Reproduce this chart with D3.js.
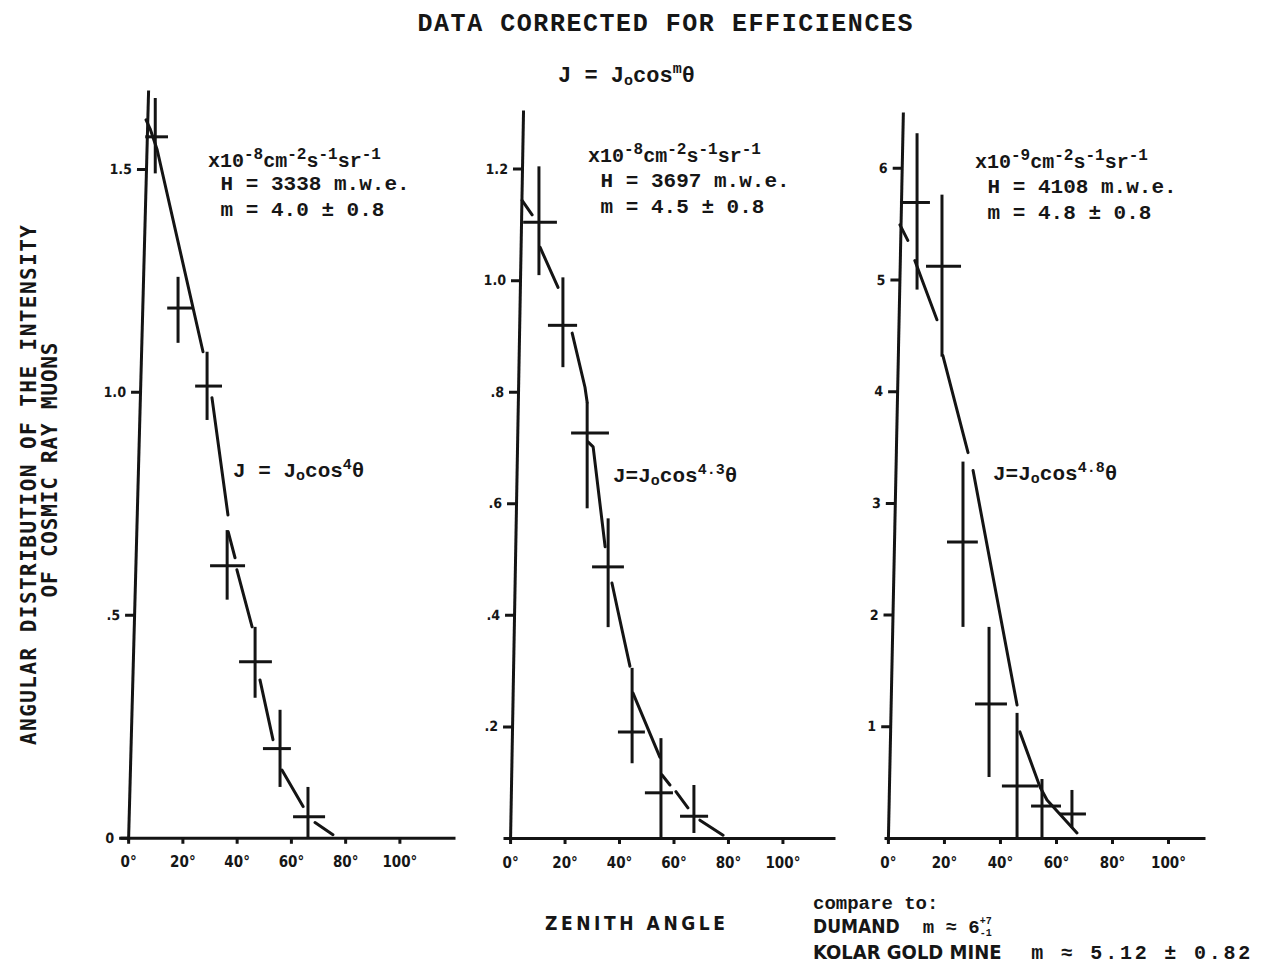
<!DOCTYPE html>
<html lang="en">
<head>
<meta charset="utf-8">
<title>Angular distribution of cosmic ray muons</title>
<script src="https://cdn.jsdelivr.net/npm/d3@7"></script>
<style>
	body { margin: 0; background: #fff; }
	text { fill: #161616; }
	.mono { font-family: "Liberation Mono", "DejaVu Sans Mono", monospace; font-weight: bold; }
	.letter { font-family: "DejaVu Sans Condensed", "DejaVu Sans", sans-serif; font-weight: bold; }
	.gothic { font-family: "DejaVu Sans Mono", monospace; font-weight: bold; }
	.axis path, .axis line { stroke: #141414; stroke-width: 3; }
	.axis text { font-family: "DejaVu Sans Condensed", sans-serif; font-weight: bold; fill: #161616; }
	.bar { stroke: #141414; stroke-width: 3; }
	.fit { fill: none; stroke: #141414; stroke-width: 3; stroke-linejoin: round; stroke-linecap: round; }
</style>
</head>
<body>
<script>
	// zenith angle axis, shared by the three panels
	var angleTicks = [0, 20, 40, 60, 80, 100];
	var angleTickLabels = ["0°", "20°", "40°", "60°", "80°", "100°"];

	// panel 1 : H = 3338 m.w.e.  (x10^-8 cm^-2 s^-1 sr^-1)
	var p1Ticks = [0, 0.5, 1.0, 1.5];
	var p1TickLabels = ["0", ".5", "1.0", "1.5"];
	var p1Angle   = [10.0, 18.4, 29.1, 36.5, 46.8, 56.0, 66.3];
	var p1AngleLo = [6.3, 14.4, 24.7, 30.2, 40.9, 49.7, 60.8];
	var p1AngleHi = [14.7, 23.6, 34.6, 43.1, 53.0, 60.0, 72.6];
	var p1J   = [1.572, 1.188, 1.013, 0.610, 0.395, 0.200, 0.047];
	var p1JLo = [1.490, 1.110, 0.937, 0.534, 0.314, 0.114, 0.000];
	var p1JHi = [1.659, 1.258, 1.090, 0.690, 0.473, 0.287, 0.114];
	// hand drawn fit, null = pen lifted
	var p1FitAngle = [6.6, 8.1, 10.7, 27.6, null, 30.9, 36.8, null, 36.9, 39.4, null, 40.1, 45.7, null, 48.6, 53.4, null, 56.7, 64.5, null, 68.9, 75.5];
	var p1FitJ     = [1.61, 1.59, 1.543, 1.09, null, 0.987, 0.724, null, 0.686, 0.628, null, 0.601, 0.473, null, 0.354, 0.220, null, 0.152, 0.070, null, 0.034, 0.007];

	// panel 2 : H = 3697 m.w.e.
	var p2Ticks = [0.2, 0.4, 0.6, 0.8, 1.0, 1.2];
	var p2TickLabels = [".2", ".4", ".6", ".8", "1.0", "1.2"];
	var p2Angle   = [10.6, 19.4, 28.3, 36.0, 44.8, 55.4, 67.5];
	var p2AngleLo = [4.8, 13.9, 22.4, 30.1, 39.6, 49.5, 62.4];
	var p2AngleHi = [17.2, 24.6, 36.3, 41.8, 49.5, 59.8, 72.7];
	var p2J   = [1.104, 0.919, 0.726, 0.486, 0.190, 0.081, 0.039];
	var p2JLo = [1.009, 0.844, 0.591, 0.378, 0.134, 0.000, 0.009];
	var p2JHi = [1.204, 1.005, 0.781, 0.573, 0.305, 0.179, 0.095];
	var p2FitAngle = [4.4, 8.1, null, 11.0, 17.6, null, 22.8, 27.5, 28.3, null, 28.6, 30.5, 34.9, null, 37.4, 39.6, 44.0, null, 45.1, 55.0, null, 55.8, 58.7, null, 60.9, 65.3, null, 69.7, 78.2];
	var p2FitJ     = [1.143, 1.117, null, 1.059, 0.987, null, 0.905, 0.808, 0.781, null, 0.710, 0.701, 0.522, null, 0.457, 0.407, 0.308, null, 0.260, 0.145, null, 0.113, 0.095, null, 0.083, 0.054, null, 0.032, 0.005];

	// panel 3 : H = 4108 m.w.e.  (x10^-9 cm^-2 s^-1 sr^-1)
	var p3Ticks = [1, 2, 3, 4, 5, 6];
	var p3TickLabels = ["1", "2", "3", "4", "5", "6"];
	var p3Angle   = [10.4, 19.3, 26.8, 36.1, 46.1, 55.0, 65.7];
	var p3AngleLo = [4.3, 13.6, 21.1, 31.1, 40.7, 51.1, 61.4];
	var p3AngleHi = [15.0, 26.1, 32.1, 42.5, 53.6, 61.8, 70.7];
	var p3J   = [5.69, 5.12, 2.65, 1.20, 0.466, 0.286, 0.215];
	var p3JLo = [4.91, 4.31, 1.89, 0.546, 0.0, 0.0, 0.09];
	var p3JHi = [6.31, 5.76, 3.37, 1.89, 1.12, 0.528, 0.43];
	var p3FitAngle = [4.3, 7.1, null, 9.6, 17.5, null, 19.6, 28.6, null, 30.4, 46.1, null, 47.1, 54.3, 56.8, 67.5];
	var p3FitJ     = [5.49, 5.35, null, 5.17, 4.64, null, 4.32, 3.45, null, 3.29, 1.19, null, 0.95, 0.457, 0.34, 0.045];

	var w = 1268;
	var h = 967;

	var svg = d3.select("body")
				.append("svg")
				.attr("width", w)
				.attr("height", h);

	svg.append("rect").attr("width", w).attr("height", h).attr("fill", "#fff");

	// the three panels, with the frame of each as it sits on the page
	var panels = [
		{ xDomain: [-3, 120.5], xRange: [120, 455], yDomain: [-0.005, 1.677], yRange: [840, 90], lean: 1.53,
		  ticks: p1Ticks, tickLabels: p1TickLabels,
		  angle: p1Angle, angleLo: p1AngleLo, angleHi: p1AngleHi, J: p1J, JLo: p1JLo, JHi: p1JHi,
		  fitAngle: p1FitAngle, fitJ: p1FitJ },
		{ xDomain: [-2.6, 119.3], xRange: [503, 835], yDomain: [-0.0036, 1.305], yRange: [840, 110], lean: 1.02,
		  ticks: p2Ticks, tickLabels: p2TickLabels,
		  angle: p2Angle, angleLo: p2AngleLo, angleHi: p2AngleHi, J: p2J, JLo: p2JLo, JHi: p2JHi,
		  fitAngle: p2FitAngle, fitJ: p2FitJ },
		{ xDomain: [-1.4, 113.2], xRange: [884, 1205], yDomain: [-0.018, 6.5], yRange: [840, 112], lean: 1.18,
		  ticks: p3Ticks, tickLabels: p3TickLabels,
		  angle: p3Angle, angleLo: p3AngleLo, angleHi: p3AngleHi, J: p3J, JLo: p3JLo, JHi: p3JHi,
		  fitAngle: p3FitAngle, fitJ: p3FitJ }
	];

	var drawPanel = function(p) {
		var x = d3.scaleLinear().domain(p.xDomain).range(p.xRange);
		var y = d3.scaleLinear().domain(p.yDomain).range(p.yRange);
		var g = svg.append("g");

		// zenith angle axis
		g.append("g")
		 .attr("class", "axis")
		 .attr("transform", "translate(0," + y(0) + ")")
		 .call(d3.axisBottom(x)
				 .tickValues(angleTicks)
				 .tickFormat(function(d, i) { return angleTickLabels[i]; })
				 .tickSize(6).tickSizeOuter(0).tickPadding(13))
		 .selectAll("text").style("font-size", "15px");

		// intensity axis - hand drawn, it leans a little to the right
		g.append("g")
		 .attr("class", "axis")
		 .attr("transform", "translate(" + x(0) + "," + y(0) + ") skewX(" + (-p.lean) + ") translate(0," + (-y(0)) + ")")
		 .call(d3.axisLeft(y)
				 .tickValues(p.ticks)
				 .tickFormat(function(d, i) { return p.tickLabels[i]; })
				 .tickSize(9).tickSizeOuter(0).tickPadding(5))
		 .selectAll("text").style("font-size", "14px");

		var pts = p.angle.map(function(a, i) {
			return { a: a, lo: p.angleLo[i], hi: p.angleHi[i], j: p.J[i], jlo: p.JLo[i], jhi: p.JHi[i] };
		});

		// angular bin widths
		g.selectAll(".hbar")
		 .data(pts).enter()
		 .append("line")
		 .attr("class", "bar hbar")
		 .attr("x1", function(d) { return x(d.lo); })
		 .attr("x2", function(d) { return x(d.hi); })
		 .attr("y1", function(d) { return y(d.j); })
		 .attr("y2", function(d) { return y(d.j); });

		// statistical errors
		g.selectAll(".vbar")
		 .data(pts).enter()
		 .append("line")
		 .attr("class", "bar vbar")
		 .attr("x1", function(d) { return x(d.a); })
		 .attr("x2", function(d) { return x(d.a); })
		 .attr("y1", function(d) { return y(d.jlo); })
		 .attr("y2", function(d) { return y(d.jhi); });

		var fit = p.fitAngle.map(function(a, i) { return [a, p.fitJ[i]]; });
		var line = d3.line()
					 .defined(function(d) { return d[1] !== null; })
					 .x(function(d) { return x(d[0]); })
					 .y(function(d) { return y(d[1]); });

		g.append("path").attr("class", "fit").attr("d", line(fit));
	};

	panels.forEach(drawPanel);

	// typed text with raised / lowered bits
	var sup = function(t, extra) { return Object.assign({ t: t, pos: "sup" }, extra); };
	var sub = function(t, extra) { return Object.assign({ t: t, pos: "sub" }, extra); };

	var typeLine = function(x, y, parts, size, cls) {
		var t = svg.append("text")
				   .attr("class", cls || "mono")
				   .attr("x", x).attr("y", y)
				   .attr("xml:space", "preserve")
				   .style("font-size", size + "px");
		var shift = 0;
		parts.forEach(function(part) {
			if (typeof part === "string") part = { t: part };
			var s = t.append("tspan").text(part.t);
			var want = part.pos === "sup" ? -(part.lift || 0.4) * size : part.pos === "sub" ? (part.drop || 0.12) * size : 0;
			if (want !== shift) { s.attr("dy", want - shift); shift = want; }
			if (part.pos) s.style("font-size", Math.round((part.scale || 0.8) * size) + "px");
			if (part.dx) s.attr("dx", part.dx);
			if (part.cls) s.attr("class", part.cls);
			if (part.spacing) s.style("letter-spacing", part.spacing + "px");
		});
		return t;
	};

	// titles
	svg.append("text")
	   .attr("class", "mono")
	   .attr("x", 665).attr("y", 31)
	   .attr("text-anchor", "middle")
	   .attr("textLength", 495)
	   .style("font-size", "25px")
	   .text("DATA CORRECTED FOR EFFICIENCES");

	typeLine(558, 82, ["J = J", sub("o", { scale: 0.7 }), "cos", sup("m", { scale: 0.7 }), "θ"], 22);

	// units and depth of each panel
	typeLine(208, 167, ["x10", sup("-8"), "cm", sup("-2"), "s", sup("-1"), "sr", sup("-1")], 20);
	typeLine(208, 190, [" H = 3338 m.w.e."], 21);
	typeLine(208, 216, [" m = 4.0 ± 0.8"], 21);

	typeLine(588, 162, ["x10", sup("-8"), "cm", sup("-2"), "s", sup("-1"), "sr", sup("-1")], 20);
	typeLine(588, 187, [" H = 3697 m.w.e."], 21);
	typeLine(588, 213, [" m = 4.5 ± 0.8"], 21);

	typeLine(975, 168, ["x10", sup("-9"), "cm", sup("-2"), "s", sup("-1"), "sr", sup("-1")], 20);
	typeLine(975, 193, [" H = 4108 m.w.e."], 21);
	typeLine(975, 219, [" m = 4.8 ± 0.8"], 21);

	// fitted exponents
	typeLine(233, 477, ["J = J", sub("o", { scale: 0.7 }), "cos", sup("4", { scale: 0.7 }), "θ"], 21);
	typeLine(613, 482, ["J=J", sub("o", { scale: 0.7 }), "cos", sup("4.3", { scale: 0.7 }), "θ"], 21);
	typeLine(993, 480, ["J=J", sub("o", { scale: 0.7 }), "cos", sup("4.8", { scale: 0.7 }), "θ"], 21);

	// axis titles
	svg.append("text")
	   .attr("class", "letter")
	   .attr("x", 635).attr("y", 930)
	   .attr("text-anchor", "middle")
	   .attr("textLength", 180)
	   .style("font-size", "19px")
	   .text("ZENITH ANGLE");

	svg.append("text")
	   .attr("class", "gothic")
	   .attr("transform", "translate(36,485) rotate(-90)")
	   .attr("text-anchor", "middle")
	   .attr("textLength", 520)
	   .style("font-size", "21px")
	   .text("ANGULAR DISTRIBUTION OF THE INTENSITY");

	svg.append("text")
	   .attr("class", "gothic")
	   .attr("transform", "translate(57,470) rotate(-90)")
	   .attr("text-anchor", "middle")
	   .attr("textLength", 255)
	   .style("font-size", "21px")
	   .text("OF COSMIC RAY MUONS");

	// comparison with other experiments
	typeLine(813, 909, ["compare to:"], 19);
	typeLine(813, 933, [{ t: "DUMAND", cls: "letter" }, "  m ≈ 6",
						sup("+7", { scale: 0.55, lift: 0.5 }), sub("-1", { scale: 0.55, drop: 0.15, dx: -12 })], 19);
	typeLine(813, 959, [{ t: "KOLAR GOLD MINE", cls: "letter" }, { t: "  m ≈ 5.12 ± 0.82", spacing: 2.8 }], 20);
</script>
</body>
</html>
